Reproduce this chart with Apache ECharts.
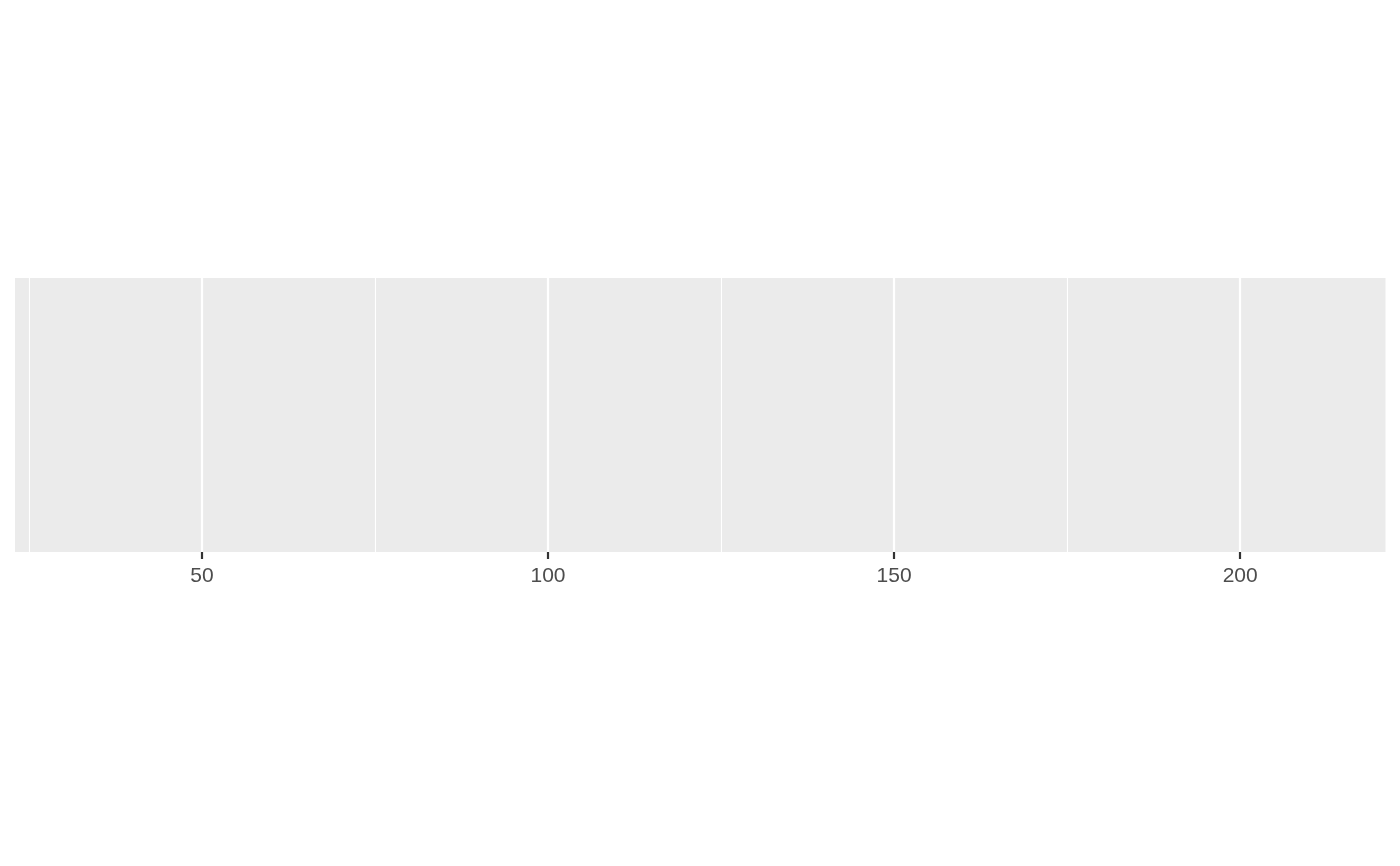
<!DOCTYPE html>
<html>
<head>
<meta charset="utf-8">
<script src="https://cdn.jsdelivr.net/npm/echarts@6/dist/echarts.min.js"></script>
<style>html,body{margin:0;padding:0;background:#fff}#c{width:1400px;height:866px}</style>
</head>
<body>
<div id="c"></div>
<script>
var xMin = 23;
var xMax = 221;
var majorTicks = [50, 100, 150, 200];
var minorBreaks = [25, 75, 125, 175];
var tickLabels = ['50', '100', '150', '200'];

var chart = echarts.init(document.getElementById('c'), null, {renderer: 'canvas'});
chart.setOption({
  animation: false,
  backgroundColor: '#FFFFFF',
  grid: {left: 15, right: 14.5, top: 278, height: 274, containLabel: false,
         show: true, backgroundColor: '#EBEBEB', borderWidth: 0},
  xAxis: {
    type: 'value', min: xMin, max: xMax,
    axisLine: {show: false},
    axisTick: {show: true, customValues: majorTicks, length: 7, lineStyle: {color: '#333333', width: 2.2}},
    axisLabel: {show: true, customValues: majorTicks, margin: 14, color: '#4D4D4D', fontSize: 21,
      fontFamily: 'Liberation Sans, Arial, sans-serif',
      formatter: function (v) { var i = majorTicks.indexOf(v); return i >= 0 ? tickLabels[i] : ''; }},
    splitLine: {show: true, lineStyle: {color: '#FFFFFF', width: 2.2}}
  },
  yAxis: {type: 'value', min: 0, max: 1, show: false, splitLine: {show: false}},
  series: [{
    type: 'line', data: [], silent: true,
    markLine: {
      silent: true, symbol: ['none', 'none'], label: {show: false},
      lineStyle: {color: '#FFFFFF', width: 1.1, type: 'solid'},
      emphasis: {disabled: true},
      data: minorBreaks.map(function (v) { return {xAxis: v}; })
    }
  }]
});
</script>
</body>
</html>
